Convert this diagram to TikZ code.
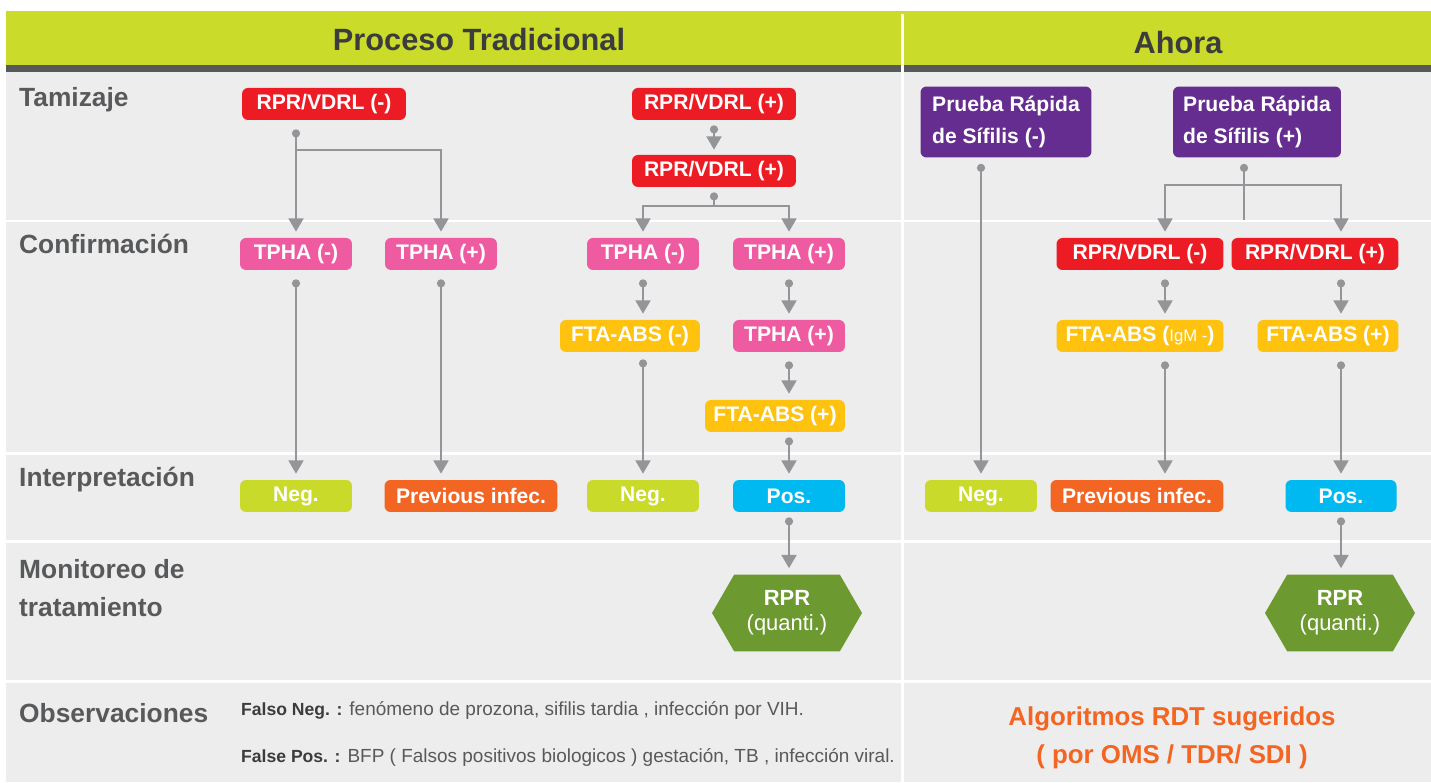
\documentclass[tikz,border=0pt]{standalone}
\usepackage{fontspec}
\setmainfont{Liberation Sans}
\usetikzlibrary{arrows.meta,calc,shapes.symbols}
\definecolor{barlime}{HTML}{CADB2A}
\definecolor{bardark}{HTML}{58595B}
\definecolor{panelgray}{HTML}{EDEDED}
\definecolor{labelgray}{HTML}{58595B}
\definecolor{headgray}{HTML}{3C3C3E}
\definecolor{arrowgray}{HTML}{939598}
\definecolor{rprred}{HTML}{ED1C24}
\definecolor{tphapink}{HTML}{EE5BA0}
\definecolor{ftayellow}{HTML}{FFC20E}
\definecolor{neglime}{HTML}{C9DA2A}
\definecolor{prevorange}{HTML}{F26522}
\definecolor{poscyan}{HTML}{00B9F1}
\definecolor{prspurple}{HTML}{662D91}
\definecolor{hexgreen}{HTML}{6C9A31}
\begin{document}
\begin{tikzpicture}[x=0.02cm,y=-0.02cm,
    box/.style={rounded corners=3.4pt, text=white, inner sep=0pt,
        minimum height=0.64cm, font=\bfseries\fontsize{12}{18}\selectfont},
    hexa/.style={shape=signal, signal to=west and east, signal pointer angle=120,
        fill=hexgreen, text=white, inner sep=0pt, minimum width=3cm, minimum height=1.54cm,
        align=center, font=\fontsize{12.5}{14}\selectfont},
    rowlabel/.style={anchor=west, text=labelgray, align=left,
        font=\bfseries\fontsize{15}{21.5}\selectfont},
    head/.style={text=headgray, font=\bfseries\fontsize{17.5}{20}\selectfont},
    note/.style={anchor=west, text=labelgray, font=\fontsize{10.8}{13}\selectfont},
    conn/.style={draw=arrowgray, line width=1.1pt,
        {Circle[length=4.6pt]}-{Triangle[width=8.5pt,length=7.5pt]}},
    dotline/.style={draw=arrowgray, line width=1.1pt, {Circle[length=4.6pt]}-},
    tip/.style={draw=arrowgray, line width=1.1pt, -{Triangle[width=8.5pt,length=7.5pt]}}]

    \useasboundingbox (0,0) rectangle (1431,783);
    % background
    \fill[white] (0,0) rectangle (1431,783);
    \fill[barlime] (6,11) rectangle (1431,65);
    \fill[bardark] (6,65) rectangle (1431,72);
    \fill[panelgray] (6,72) rectangle (1431,782);
    \foreach \y in {221,453.5,541.5,681.5}
        \draw[white, line width=1.7pt] (6,\y) -- (1431,\y);
    \draw[white, line width=1.7pt] (902,14) -- (902,782);

    % headings and row labels
    \node[head] (hTrad) at (479,40) {Proceso Tradicional};
    \node[head] (hAhora) at (1178,43) {Ahora};
    \node[rowlabel] (lTam) at (13,100) {Tamizaje};
    \node[rowlabel] (lConf) at (13,244) {Confirmación};
    \node[rowlabel] (lInt) at (13,480) {Interpretación};
    \node[rowlabel] (lMon) at (13,588) {Monitoreo de\\tratamiento};
    \node[rowlabel] (lObs) at (13,713) {Observaciones};

    % proceso tradicional
    \node[box, fill=rprred, minimum width=3.28cm] (rprA) at (324,104) {RPR/VDRL (-)};
    \node[box, fill=rprred, minimum width=3.28cm] (rprB) at (714,104) {RPR/VDRL (+)};
    \node[box, fill=rprred, minimum width=3.28cm] (rprC) at (714,171) {RPR/VDRL (+)};
    \node[box, fill=tphapink, minimum width=2.24cm] (tphaA) at (296,254) {TPHA (-)};
    \node[box, fill=tphapink, minimum width=2.24cm] (tphaB) at (441,254) {TPHA (+)};
    \node[box, fill=tphapink, minimum width=2.24cm] (tphaC) at (643,254) {TPHA (-)};
    \node[box, fill=tphapink, minimum width=2.24cm] (tphaD) at (789,254) {TPHA (+)};
    \node[box, fill=ftayellow, minimum width=2.8cm] (ftaA) at (630,336) {FTA-ABS (-)};
    \node[box, fill=tphapink, minimum width=2.24cm] (tphaE) at (789,336) {TPHA (+)};
    \node[box, fill=ftayellow, minimum width=2.8cm] (ftaB) at (775,416) {FTA-ABS (+)};
    \node[box, fill=neglime, minimum width=2.24cm] (negA) at (296,496) {Neg.};
    \node[box, fill=prevorange, minimum width=3.46cm] (prevA) at (471,496) {Previous infec.};
    \node[box, fill=neglime, minimum width=2.24cm] (negB) at (643,496) {Neg.};
    \node[box, fill=poscyan, minimum width=2.24cm] (posA) at (789,496) {Pos.};
    \node[hexa] (hexA) at (787,613) {\textbf{RPR}\\(quanti.)};

    \draw[conn] ($(rprA.south -| tphaA.north)+(0,9)$) -- ($(tphaA.north)+(0,-6)$);
    \draw[tip] ($(rprA.south -| tphaA.north)+(0,30)$) -| ($(tphaB.north)+(0,-6)$);
    \draw[conn] ($(rprB.south)+(0,5)$) -- ($(rprC.north)+(0,-5)$);
    \draw[dotline] ($(rprC.south)+(0,5)$) -- ($(rprC.south)+(0,19)$);
    \draw[tip] ($(rprC.south)+(0,19)$) -| ($(tphaC.north)+(0,-6)$);
    \draw[tip] ($(rprC.south)+(0,19)$) -| ($(tphaD.north)+(0,-6)$);
    \draw[conn] ($(tphaA.south)+(0,9)$) -- ($(negA.north)+(0,-6)$);
    \draw[conn] ($(tphaB.south)+(0,9)$) -- ($(tphaB.south |- prevA.north)+(0,-6)$);
    \draw[conn] ($(tphaC.south)+(0,9)$) -- ($(tphaC.south |- ftaA.north)+(0,-6)$);
    \draw[conn] ($(ftaA.south -| tphaC.south)+(0,7)$) -- ($(negB.north)+(0,-6)$);
    \draw[conn] ($(tphaD.south)+(0,9)$) -- ($(tphaE.north)+(0,-6)$);
    \draw[conn] ($(tphaE.south)+(0,9)$) -- ($(tphaE.south |- ftaB.north)+(0,-6)$);
    \draw[conn] ($(ftaB.south -| posA.north)+(0,5)$) -- ($(posA.north)+(0,-6)$);
    \draw[conn] ($(posA.south)+(0,5)$) -- ($(posA.south |- hexA.north)+(0,-6)$);

    % ahora
    \node[box, fill=prspurple, minimum width=3.42cm, minimum height=1.42cm, align=left]
        (prsA) at (1006,122) {Prueba Rápida\\de Sífilis (-)};
    \node[box, fill=prspurple, minimum width=3.36cm, minimum height=1.42cm, align=left]
        (prsB) at (1257,122) {Prueba Rápida\\de Sífilis (+)};
    \node[box, fill=rprred, minimum width=3.34cm] (rprD) at (1140,254) {RPR/VDRL (-)};
    \node[box, fill=rprred, minimum width=3.34cm] (rprE) at (1315,254) {RPR/VDRL (+)};
    \node[box, fill=ftayellow, minimum width=3.34cm] (ftaC) at (1140,336)
        {FTA-ABS ({\mdseries\fontsize{9.5}{10}\selectfont IgM -})};
    \node[box, fill=ftayellow, minimum width=2.82cm] (ftaD) at (1328,336) {FTA-ABS (+)};
    \node[box, fill=neglime, minimum width=2.24cm] (negC) at (981,496) {Neg.};
    \node[box, fill=prevorange, minimum width=3.46cm] (prevB) at (1137,496) {Previous infec.};
    \node[box, fill=poscyan, minimum width=2.22cm] (posB) at (1341,496) {Pos.};
    \node[hexa] (hexB) at (1340,613) {\textbf{RPR}\\(quanti.)};
    \coordinate (colL) at (1165,0);

    \draw[conn] ($(prsA.south -| negC.north)+(0,6)$) -- ($(negC.north)+(0,-6)$);
    \draw[dotline] ($(prsB.south)+(-13,6)$) -- ($(prsB.south)+(-13,62)$);
    \draw[tip] ($(prsB.south)+(-13,27)$) -| ($(rprD.north -| colL)+(0,-6)$);
    \draw[tip] ($(prsB.south)+(-13,27)$) -| ($(rprE.north -| posB.north)+(0,-6)$);
    \draw[conn] ($(rprD.south -| colL)+(0,9)$) -- ($(ftaC.north -| colL)+(0,-6)$);
    \draw[conn] ($(rprE.south -| posB.north)+(0,9)$) -- ($(ftaD.north -| posB.north)+(0,-6)$);
    \draw[conn] ($(ftaC.south -| colL)+(0,9)$) -- ($(prevB.north -| colL)+(0,-6)$);
    \draw[conn] ($(ftaD.south -| posB.north)+(0,9)$) -- ($(posB.north)+(0,-6)$);
    \draw[conn] ($(posB.south)+(0,5)$) -- ($(posB.south |- hexB.north)+(0,-6)$);

    % observaciones
    \node[note] (nNeg) at (235,710) {\textcolor{headgray}{\bfseries\fontsize{10}{13}\selectfont Falso Neg. :}
        fenómeno de prozona, sifilis tardia , infección por VIH.};
    \node[note] (nPos) at (235,757) {\textcolor{headgray}{\bfseries\fontsize{10}{13}\selectfont False Pos. :}
        BFP ( Falsos positivos biologicos ) gestación, TB , infección viral.};
    \node[text=prevorange, align=center, font=\bfseries\fontsize{14.7}{21.5}\selectfont]
        (algo) at (1172,738) {Algoritmos RDT sugeridos\\( por OMS / TDR/ SDI )};
\end{tikzpicture}
\end{document}
